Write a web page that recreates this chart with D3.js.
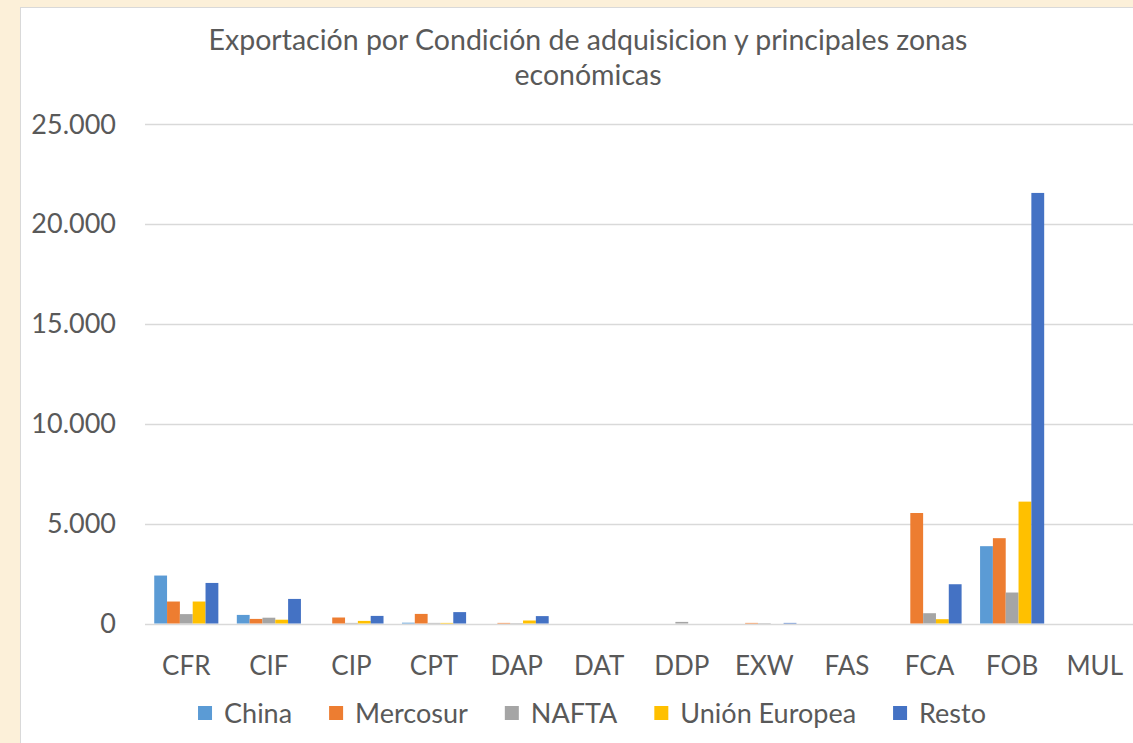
<!DOCTYPE html>
<html>
<head>
<meta charset="utf-8">
<script src="https://cdn.jsdelivr.net/npm/d3@7"></script>
<style>
  body { margin: 0; background: #fcf0d9; overflow: hidden; }
  svg text { font-family: Lato, "Open Sans", sans-serif; fill: #595959; }
</style>
</head>
<body>
<div id="grafico"></div>
<script>
// Dimensiones
const width = 1133;
const height = 743;

// Datos
const categorias = ["CFR", "CIF", "CIP", "CPT", "DAP", "DAT", "DDP", "EXW", "FAS", "FCA", "FOB", "MUL"];
const series = ["China", "Mercosur", "NAFTA", "Unión Europea", "Resto"];
const china    = [2400, 430, 0, 40, 0, 0, 0, 0, 0, 0, 3870, 0];
const mercosur = [1100, 230, 300, 480, 30, 0, 0, 30, 0, 5530, 4270, 0];
const nafta    = [470, 290, 30, 30, 20, 0, 80, 20, 0, 515, 1550, 0];
const unionEu  = [1100, 190, 130, 30, 150, 0, 0, 0, 0, 215, 6100, 0];
const resto    = [2030, 1230, 380, 570, 370, 0, 0, 30, 0, 1965, 21550, 0];
const ticksY = [0, 5000, 10000, 15000, 20000, 25000];
const colores = ["#5b9bd5", "#ed7d31", "#a5a5a5", "#ffc000", "#4472c4"];

const valores = [china, mercosur, nafta, unionEu, resto];

const svg = d3.select("#grafico")
  .append("svg")
  .attr("width", width)
  .attr("height", height);

// Área blanca del gráfico
svg.append("rect")
  .attr("x", 20.5).attr("y", 7.5)
  .attr("width", 1140).attr("height", 760)
  .attr("fill", "#fff")
  .attr("stroke", "#d9d9d9");

// Escalas
const x = d3.scaleBand().domain(categorias).range([145, 1136]).padding(0);
const xs = d3.scaleBand().domain(series).range([0, x.bandwidth()]).paddingInner(0).paddingOuter(0.72);
const y = d3.scaleLinear().domain([0, 25000]).range([623.5, 124]);

// Rejilla
svg.append("g")
  .selectAll("line")
  .data(ticksY)
  .join("line")
  .attr("x1", 145).attr("x2", 1136)
  .attr("y1", d => Math.round(y(d)) + 0.5)
  .attr("y2", d => Math.round(y(d)) + 0.5)
  .attr("stroke", "#d9d9d9")
  .attr("stroke-width", 1.5);

// Etiquetas del eje Y
const fmt = d => d === 0 ? "0" : d3.format(",")(d).replace(/,/g, ".");
svg.append("g")
  .selectAll("text")
  .data(ticksY)
  .join("text")
  .attr("x", 116)
  .attr("y", d => y(d) + 9.5)
  .attr("text-anchor", "end")
  .attr("font-size", 27)
  .text(fmt);

// Barras
const grupos = svg.append("g")
  .selectAll("g")
  .data(series)
  .join("g")
  .attr("fill", (d, i) => colores[i]);

grupos.selectAll("rect")
  .data((s, i) => categorias.map((c, j) => ({ cat: c, serie: s, v: valores[i][j] })))
  .join("rect")
  .attr("x", d => x(d.cat) + xs(d.serie))
  .attr("width", xs.bandwidth())
  .attr("y", d => y(d.v))
  .attr("height", d => y(0) - y(d.v));

// Etiquetas del eje X
svg.append("g")
  .selectAll("text")
  .data(categorias)
  .join("text")
  .attr("x", d => x(d) + x.bandwidth() / 2)
  .attr("y", 675)
  .attr("text-anchor", "middle")
  .attr("font-size", 26)
  .text(d => d);

// Título
svg.append("text")
  .attr("x", 588).attr("y", 50)
  .attr("text-anchor", "middle")
  .attr("font-size", 28.5)
  .text("Exportación por Condición de adquisicion y principales zonas");
svg.append("text")
  .attr("x", 588).attr("y", 85)
  .attr("text-anchor", "middle")
  .attr("font-size", 28.5)
  .text("económicas");

// Leyenda
const leyenda = svg.append("g");
const items = leyenda.selectAll("g")
  .data(series)
  .join("g");
items.append("rect")
  .attr("width", 14).attr("height", 14)
  .attr("y", 706)
  .attr("fill", (d, i) => colores[i]);
items.append("text")
  .attr("x", 26)
  .attr("y", 723)
  .attr("font-size", 27)
  .text(d => d);

// Colocar los elementos de la leyenda uno tras otro
let pos = 0;
const anchos = [];
items.each(function() {
  const w = 26 + d3.select(this).select("text").node().getComputedTextLength();
  anchos.push(pos);
  pos += w + 37;
});
const total = pos - 37;
const inicio = 592 - total / 2;
items.attr("transform", (d, i) => `translate(${inicio + anchos[i]},0)`);
</script>
</body>
</html>
